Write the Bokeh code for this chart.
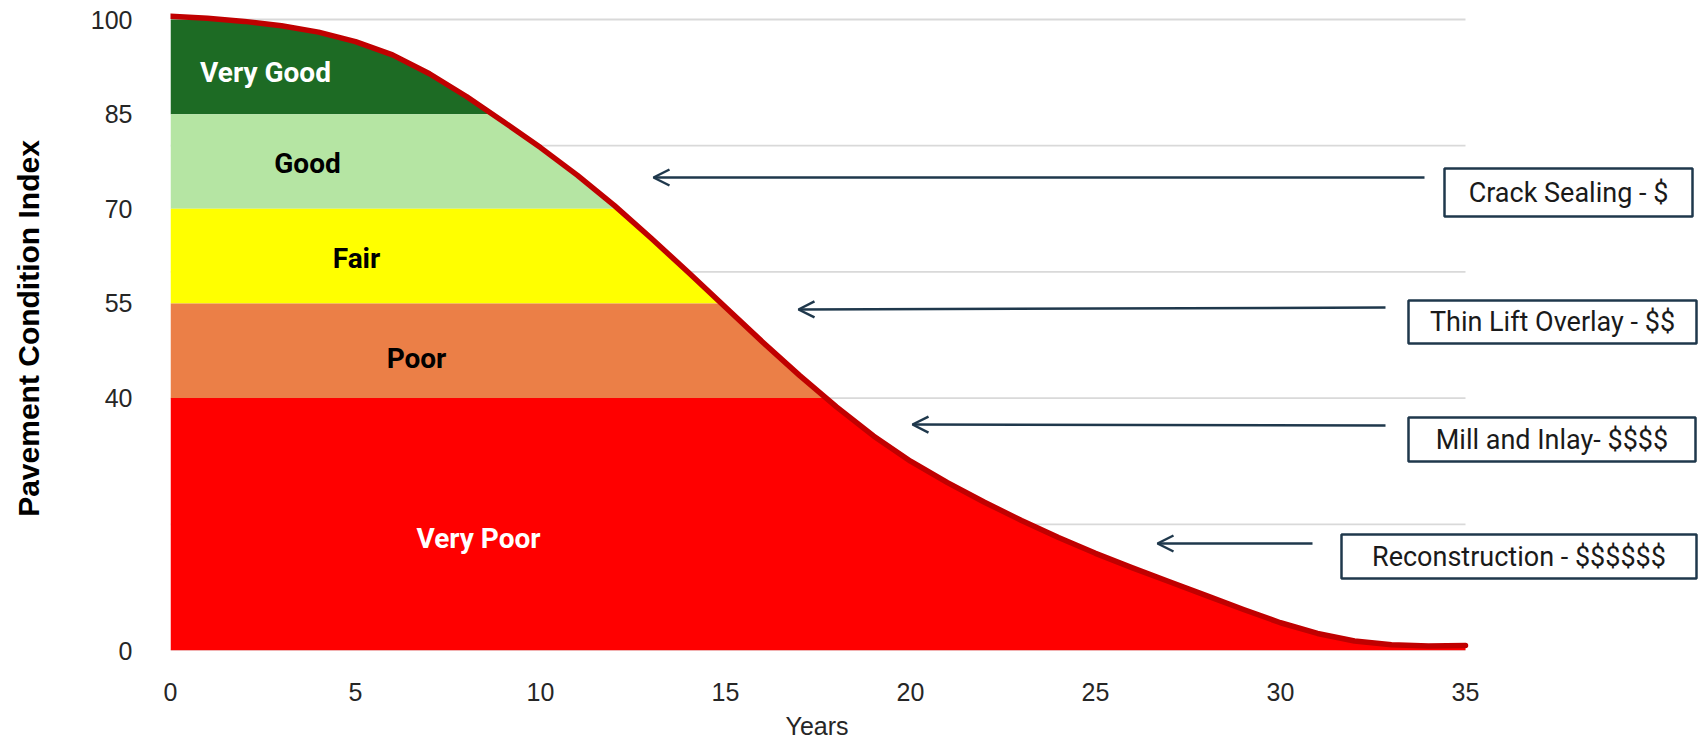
import numpy as np
from bokeh.plotting import figure
from bokeh.models import (Range1d, FixedTicker, Label, Arrow, OpenHead, BoxAnnotation,
                          ColumnDataSource, Title, PlainText)
from bokeh.core.properties import value
from bokeh.embed import file_html
from bokeh.resources import INLINE

# ---------------- data ----------------
years = list(range(36))
pci = [100.5, 100.2, 99.7, 99.0, 98.0, 96.5, 94.4, 91.4, 87.8, 83.8,
       79.7, 75.3, 70.5, 65.3, 59.9, 54.4, 48.9, 43.6, 38.6, 34.0,
       30.0, 26.6, 23.5, 20.6, 17.9, 15.4, 13.1, 10.9, 8.7, 6.5,
       4.4, 2.7, 1.5, 0.9, 0.7, 0.8]

band_names = ["Very Good", "Good", "Fair", "Poor", "Very Poor"]
band_lo = [85, 70, 55, 40, 0]
band_hi = [100, 85, 70, 55, 40]

y_tick_values = [0, 40, 55, 70, 85, 100]
y_tick_labels = ["0", "40", "55", "70", "85", "100"]
x_tick_values = [0, 5, 10, 15, 20, 25, 30, 35]
grid_levels = [0, 20, 40, 60, 80, 100]

treatments = ["Crack Sealing - $", "Thin Lift Overlay - $$",
              "Mill and Inlay- $$$$", "Reconstruction - $$$$$$"]

# ---------------- styles / layout ----------------
band_colors = ["#1D6B24", "#B5E5A3", "#FFFF00", "#EB7F47", "#FF0000"]
band_text_colors = ["white", "black", "black", "black", "white"]
line_color = "#C00000"
navy = "#1F384C"
grid_color = "#D9D9D9"

W, H = 1698, 745
FRAME_L, FRAME_T, FRAME_B = 170, 6, 650
PX_YEAR, PX_UNIT = 37.0, 6.31
x_end = (W - FRAME_L) / PX_YEAR
y_end = (FRAME_B - FRAME_T) / PX_UNIT


def dx(px):
    return (px - FRAME_L) / PX_YEAR


def dy(py):
    return (FRAME_B - py) / PX_UNIT


# pixel positions for annotations
band_label_px = [(265, 72), (307, 163), (356, 258), (416, 358), (478, 538)]
arrow_px = [((1424, 177), (653, 177)),
            ((1385, 307), (798, 309)),
            ((1385, 425), (912, 424)),
            ((1312, 543), (1157, 543))]
box_px = [(1444, 1692, 168, 216),
          (1408, 1696, 300, 343),
          (1408, 1695, 417, 461),
          (1341, 1696, 534, 578)]

p = figure(width=W, height=H, output_backend="svg", toolbar_location=None,
           x_range=Range1d(0, x_end), y_range=Range1d(0, y_end),
           min_border_left=FRAME_L, min_border_right=0,
           min_border_top=FRAME_T, min_border_bottom=H - FRAME_B)
p.outline_line_color = None
p.xgrid.visible = False
p.ygrid.visible = False
p.background_fill_color = "white"

# gridlines (only over the 0..35 year span)
p.segment(x0=[years[0]] * len(grid_levels), x1=[years[-1]] * len(grid_levels),
          y0=grid_levels, y1=grid_levels, line_color=grid_color, line_width=1.8)

# band fills under the curve (crossing points added so band edges follow the curve)
x = np.array(years, dtype=float)
y = np.array(pci, dtype=float)
levels = sorted(set(band_lo + band_hi))
cross = []
for i in range(len(x) - 1):
    for L in levels:
        if (y[i] - L) * (y[i + 1] - L) < 0:
            cross.append(x[i] + (L - y[i]) * (x[i + 1] - x[i]) / (y[i + 1] - y[i]))
xf = np.unique(np.concatenate([x, np.array(cross)]))
yf = np.interp(xf, x, y)
for lo, hi, col in zip(band_lo, band_hi, band_colors):
    top = np.clip(yf, lo, hi)
    p.varea(x=xf, y1=np.full_like(xf, lo), y2=top, fill_color=col, fill_alpha=1)

p.line(years, pci, line_width=5.5, line_color=line_color, line_cap="round", line_join="round")

# band labels
src = ColumnDataSource(dict(
    x=[dx(a) for a, b in band_label_px],
    y=[dy(b) for a, b in band_label_px],
    text=band_names,
    color=band_text_colors))
p.text(x="x", y="y", text="text", text_color="color", source=src,
       text_font=value("Roboto"), text_font_style="bold", text_font_size="28px",
       text_align="center", text_baseline="middle")

# axes
p.xaxis.ticker = FixedTicker(ticks=x_tick_values)
p.yaxis.ticker = FixedTicker(ticks=y_tick_values)
p.yaxis.major_label_overrides = {v: s for v, s in zip(y_tick_values, y_tick_labels)}
for ax in (p.xaxis[0], p.yaxis[0]):
    ax.axis_line_color = None
    ax.major_tick_line_color = None
    ax.minor_tick_line_color = None
    ax.major_label_text_font = "Liberation Sans"
    ax.major_label_text_font_size = "25px"
    ax.major_label_text_color = "#262626"
p.yaxis.major_label_standoff = 32
p.xaxis.major_label_standoff = 26

# y title as the axis label
p.yaxis.axis_label = "Pavement Condition Index"
p.yaxis.axis_label_standoff = 43
p.yaxis.axis_label_text_font = "Liberation Sans"
p.yaxis.axis_label_text_font_style = "bold"
p.yaxis.axis_label_text_font_size = "30px"
p.yaxis.axis_label_text_color = "black"

# x title as a side title below (positioned over the 0..35 span)
p.add_layout(Title(text="Years", align="left", offset=615, standoff=12,
                   text_font="Liberation Sans", text_font_style="normal",
                   text_font_size="25px", text_color="#262626"), "below")

# treatment arrows and boxes
for (tail, tip), (l, r, t, b), txt in zip(arrow_px, box_px, treatments):
    p.add_layout(Arrow(x_start=dx(tail[0]), y_start=dy(tail[1]), x_end=dx(tip[0]), y_end=dy(tip[1]),
                       line_color=navy, line_width=2.5,
                       end=OpenHead(size=16, line_color=navy, line_width=2.5)))
    p.add_layout(BoxAnnotation(left=dx(l), right=dx(r), top=dy(t), bottom=dy(b),
                               fill_color="white", fill_alpha=1,
                               line_color=navy, line_width=2.5, line_alpha=1))
    p.add_layout(Label(x=dx((l + r) / 2), y=dy((t + b) / 2), text=PlainText(txt),
                       text_align="center", text_baseline="middle", text_font="Roboto",
                       text_font_size="27px", text_color="#1A1A1A"))

open("out.html", "w").write(file_html(p, INLINE))
